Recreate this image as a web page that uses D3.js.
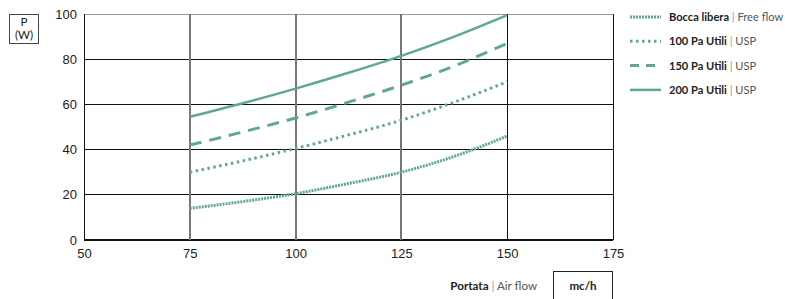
<!DOCTYPE html>
<html>
<head>
<meta charset="utf-8">
<script src="https://cdn.jsdelivr.net/npm/d3@7"></script>
<style>
  body { margin: 0; background: #fff; }
  svg { display: block; }
  .tick text { font-family: "Liberation Sans", Arial, sans-serif; font-size: 13px; fill: #222; }
  .lbl { font-family: Lato, "Noto Sans", sans-serif; font-size: 11.6px; fill: #222; }
  .leg { font-size: 11.1px; }
</style>
</head>
<body>
<svg id="chart" width="785" height="299"></svg>
<script>
// air flow (mc/h)
var flows = [75, 87.5, 100, 112.5, 125, 137.5, 150];
// power (W) per curve
var freeFlow = [14, 17, 20.5, 25, 30, 37, 46];
var usp100 = [30, 35, 40.5, 46.5, 53, 61, 70];
var usp150 = [42, 47.8, 54, 61, 68.5, 77, 87];
var usp200 = [54.5, 60.5, 67, 74, 81.5, 90, 99.5];

var xTicks = [50, 75, 100, 125, 150, 175];
var yTicks = [0, 20, 40, 60, 80, 100];

var seriesNames = [
  ['Bocca libera', 'Free flow'],
  ['100 Pa Utili', 'USP'],
  ['150 Pa Utili', 'USP'],
  ['200 Pa Utili', 'USP']
];
var seriesValues = [freeFlow, usp100, usp150, usp200];
var dashes = ['2,1', '2.5,3.5', '12,8', null];

var color = '#5fa891';

var svg = d3.select('#chart');

var x = d3.scaleLinear().domain([50, 175]).range([84, 613]);
var y = d3.scaleLinear().domain([0, 100]).range([240, 14]);

// horizontal grid
svg.append('g')
  .selectAll('line')
  .data(yTicks)
  .enter().append('line')
  .attr('x1', x(50)).attr('x2', x(175))
  .attr('y1', function(d) { return y(d); })
  .attr('y2', function(d) { return y(d); })
  .attr('stroke', function(d) { return d == 100 ? '#999' : '#111'; })
  .attr('stroke-width', function(d) { return d == 0 ? 1.5 : 1; })
  .attr('shape-rendering', 'crispEdges');

// vertical grid
svg.append('g')
  .selectAll('line')
  .data(xTicks)
  .enter().append('line')
  .attr('y1', y(0)).attr('y2', y(100))
  .attr('x1', function(d) { return x(d); })
  .attr('x2', function(d) { return x(d); })
  .attr('stroke', function(d) { return (d == 50 || d >= 150) ? '#111' : '#777'; })
  .attr('stroke-width', function(d) { return (d == 50 || d >= 150) ? 1 : 2; })
  .attr('shape-rendering', 'crispEdges');

// axes (labels only)
var xAxis = svg.append('g')
  .attr('transform', 'translate(0,' + y(0) + ')')
  .call(d3.axisBottom(x).tickValues(xTicks).tickSize(0).tickPadding(9));
xAxis.select('.domain').remove();

var yAxis = svg.append('g')
  .attr('transform', 'translate(' + x(50) + ',0)')
  .call(d3.axisLeft(y).tickValues(yTicks).tickSize(0).tickPadding(7));
yAxis.select('.domain').remove();

// curves
var line = d3.line()
  .x(function(d) { return x(d[0]); })
  .y(function(d) { return y(d[1]); })
  .curve(d3.curveMonotoneX);

seriesValues.forEach(function(vals, i) {
  svg.append('path')
    .datum(flows.map(function(f, j) { return [f, vals[j]]; }))
    .attr('d', line)
    .attr('fill', 'none')
    .attr('stroke', color)
    .attr('stroke-width', i == 3 ? 2.5 : 3)
    .attr('stroke-dasharray', dashes[i]);
});

// legend
var legend = svg.append('g');
seriesNames.forEach(function(n, i) {
  var ly = 17 + i * 24.3;
  legend.append('line')
    .attr('x1', 630).attr('x2', 661)
    .attr('y1', ly).attr('y2', ly)
    .attr('stroke', color)
    .attr('stroke-width', i == 3 ? 2.5 : 3)
    .attr('stroke-dasharray', i == 2 ? '9,7' : dashes[i]);
  var t = legend.append('text')
    .attr('class', 'lbl leg')
    .attr('x', 669).attr('y', ly + 4);
  t.append('tspan').attr('font-weight', 'bold').text(n[0]);
  t.append('tspan').attr('fill', '#999').text(' | ');
  t.append('tspan').attr('fill', '#555').text(n[1]);
});

// unit boxes
svg.append('rect')
  .attr('x', 9.5).attr('y', 14.5).attr('width', 29).attr('height', 29)
  .attr('fill', 'none').attr('stroke', '#444');
svg.append('text').attr('class', 'lbl')
  .attr('x', 24).attr('y', 26).attr('text-anchor', 'middle').text('P');
svg.append('text').attr('class', 'lbl')
  .attr('x', 24).attr('y', 39).attr('text-anchor', 'middle').text('(W)');

svg.append('rect')
  .attr('x', 553.5).attr('y', 271.5).attr('width', 59).attr('height', 40)
  .attr('fill', 'none').attr('stroke', '#222');
svg.append('text').attr('class', 'lbl')
  .attr('x', 583).attr('y', 290).attr('text-anchor', 'middle')
  .attr('font-weight', 'bold').text('mc/h');

var ax = svg.append('text').attr('class', 'lbl')
  .attr('x', 537).attr('y', 290).attr('text-anchor', 'end');
ax.append('tspan').attr('font-weight', 'bold').text('Portata');
ax.append('tspan').attr('fill', '#999').text(' | ');
ax.append('tspan').attr('fill', '#555').text('Air flow');
</script>
</body>
</html>
